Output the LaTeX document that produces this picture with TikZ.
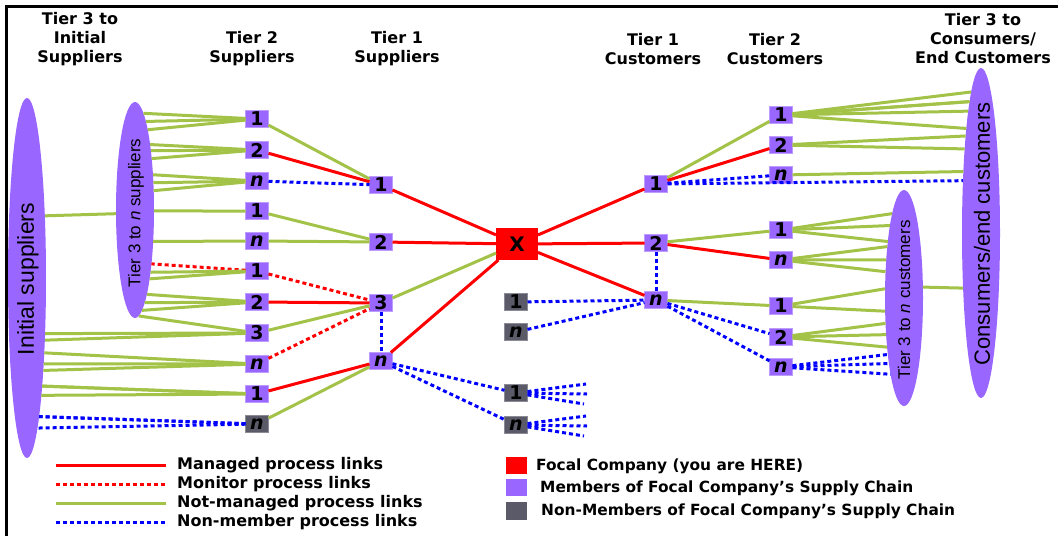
\documentclass[tikz,border=0pt]{standalone}
\usepackage{fontspec}
\setmainfont{DejaVu Sans}
\newfontfamily\lsans{Liberation Sans}
\usetikzlibrary{shapes.geometric}

\definecolor{member}{RGB}{153,102,255}
\definecolor{nonmember}{RGB}{90,90,104}
\definecolor{focal}{RGB}{255,0,0}
\definecolor{notmanaged}{RGB}{163,194,72}
\definecolor{linkblue}{RGB}{0,0,255}

\tikzset{
  box/.style={minimum width=23pt, minimum height=17pt, inner sep=0pt, outer sep=0pt,
    font=\fontsize{19}{19}\selectfont\bfseries},
  mem/.style={box, fill=member, draw=member!65!white, line width=0.8pt},
  non/.style={box, fill=nonmember, draw=nonmember!70!white, line width=0.8pt},
  focalbox/.style={minimum width=42pt, minimum height=32pt, inner sep=0pt, outer sep=0pt,
    fill=focal, font=\fontsize{20}{20}\selectfont\bfseries},
  group/.style={ellipse, fill=member, minimum width=38pt, inner sep=0pt, outer sep=0pt},
  grouplbl/.style={rotate=90, inner sep=0pt},
  hdr/.style={align=center, font=\fontsize{16}{19}\selectfont\bfseries},
  legtxt/.style={anchor=west, inner sep=0pt, font=\fontsize{16}{16}\selectfont\bfseries},
  legtxtb/.style={anchor=west, inner sep=0pt, font=\fontsize{15.4}{16}\selectfont\bfseries},
  managed/.style={draw=focal, line width=3pt},
  monitor/.style={draw=focal, line width=3pt, dash pattern=on 4pt off 3pt},
  notman/.style={draw=notmanaged, line width=3pt},
  nonlink/.style={draw=linkblue, line width=3pt, dash pattern=on 4pt off 3pt},
}

% fan of links from a box to the rim of a group ellipse (rx = 19);
% #1 style, #2 box, #3 ellipse, #4 centre y, #5 half height, #6 side (+1 east, -1 west), #7 rim y values
\newcommand\fanlines[7]{%
  \foreach \yy in {#7}{%
    \pgfmathsetmacro\dd{#4-\yy}%
    \pgfmathsetmacro\xx{#6*19*sqrt(max(0,1-(\dd/#5)^2))}%
    \pgfmathsetmacro\aa{atan2(\dd,\xx)}%
    \draw[#1] (#2) -- (#3.\aa);%
  }%
}

\begin{document}
\begin{tikzpicture}[x=1pt,y=-1pt]
\useasboundingbox (0,0) rectangle (1058,536);

% frame
\draw[line width=3pt] (6.5,536) -- (6.5,6.5) -- (1058,6.5);

% column headings
\node[hdr] (h1) at (80,39) {Tier 3 to\\Initial\\Suppliers};
\node[hdr] (h2) at (252,49) {Tier 2\\Suppliers};
\node[hdr] (h3) at (397,49) {Tier 1\\Suppliers};
\node[hdr] (h4) at (653,49) {Tier 1\\Customers};
\node[hdr] (h5) at (775,49) {Tier 2\\Customers};
\node[hdr] (h6) at (983,39) {Tier 3 to\\Consumers/\\End Customers};

% group ellipses
\node[group, minimum height=360pt] (init) at (27,278) {};
\node[group, minimum height=216pt] (t3s) at (135,210) {};
\node[group, minimum height=330pt] (cons) at (981,233) {};
\node[group, minimum height=216pt] (t3c) at (904,298) {};
\node[grouplbl, font=\lsans\fontsize{23}{23}\selectfont] (initl) at (28,279) {Initial suppliers};
\node[grouplbl, font=\lsans\fontsize{17}{17}\selectfont] (t3sl) at (136,213) {Tier 3 to \textit{n} suppliers};
\node[grouplbl, font=\lsans\fontsize{22}{22}\selectfont] (consl) at (982,234) {Consumers/end customers};
\node[grouplbl, font=\lsans\fontsize{17}{17}\selectfont] (t3cl) at (904,300) {Tier 3 to \textit{n} customers};

% tier 2 suppliers
\node[mem] (s21a) at (257,119) {1};
\node[mem] (s22a) at (257,150) {2};
\node[mem] (s2na) at (257,181) {\itshape n};
\node[mem] (s21b) at (257,211) {1};
\node[mem] (s2nb) at (257,241) {\itshape n};
\node[mem] (s21c) at (257,271) {1};
\node[mem] (s22c) at (257,302) {2};
\node[mem] (s23c) at (257,333) {3};
\node[mem] (s2nc) at (257,364) {\itshape n};
\node[mem] (s21d) at (257,394) {1};
\node[non] (s2nd) at (257,424) {\itshape n};

% tier 1 suppliers
\node[mem] (s11) at (381,185) {1};
\node[mem] (s12) at (381,242) {2};
\node[mem] (s13) at (381,303) {3};
\node[mem] (s1n) at (381,361) {\itshape n};

% focal company
\node[focalbox] (x) at (517,244) {X};

% non-members near the focal company
\node[non] (g1) at (516,302) {1};
\node[non] (gn) at (516,332) {\itshape n};
\node[non] (g1b) at (516,393) {1};
\node[non] (gnb) at (516,425) {\itshape n};

% tier 1 customers
\node[mem] (c11) at (656,184) {1};
\node[mem] (c12) at (656,243) {2};
\node[mem] (c1n) at (656,300) {\itshape n};

% tier 2 customers
\node[mem] (c21a) at (781,115) {1};
\node[mem] (c22a) at (781,145) {2};
\node[mem] (c2na) at (781,175) {\itshape n};
\node[mem] (c21b) at (781,230) {1};
\node[mem] (c2nb) at (781,260) {\itshape n};
\node[mem] (c21c) at (781,306) {1};
\node[mem] (c22c) at (781,337) {2};
\node[mem] (c2nc) at (781,367) {\itshape n};

% loose ends of the non-member fans
\coordinate (f1a) at (586,384);
\coordinate (f1b) at (587,394);
\coordinate (f1c) at (584,404);
\coordinate (fna) at (586,416);
\coordinate (fnb) at (587,426);
\coordinate (fnc) at (584,436);

% ---- supplier side links ----
\fanlines{notman}{s21a}{t3s}{210}{108}{1}{113,120,128}
\fanlines{notman}{s22a}{t3s}{210}{108}{1}{143,150,158}
\fanlines{notman}{s2na}{t3s}{210}{108}{1}{174,182,190}
\fanlines{notman}{s21b}{t3s}{210}{108}{1}{211}
\fanlines{notman}{s2nb}{t3s}{210}{108}{1}{242}
\fanlines{monitor}{s21c}{t3s}{210}{108}{1}{266}
\fanlines{notman}{s21c}{t3s}{210}{108}{1}{273,280}
\fanlines{notman}{s22c}{t3s}{210}{108}{1}{296,303,311}
\fanlines{notman}{s23c}{t3s}{210}{108}{1}{317}
\fanlines{notman}{s23c}{init}{278}{180}{1}{334,342}
\fanlines{notman}{s2nc}{init}{278}{180}{1}{357,364,372}
\fanlines{notman}{s21d}{init}{278}{180}{1}{387,395,403}
\fanlines{nonlink}{s2nd}{init}{278}{180}{1}{418,425,432}
\draw[notman] (init.74.5) -- (t3s.191.9);

\draw[notman]  (s21a) -- (s11);
\draw[managed] (s22a) -- (s11);
\draw[nonlink] (s2na) -- (s11);
\draw[notman]  (s21b) -- (s12);
\draw[notman]  (s2nb) -- (s12);
\draw[monitor] (s21c) -- (s13);
\draw[managed] (s22c) -- (s13);
\draw[notman]  (s23c) -- (s13);
\draw[monitor] (s2nc) -- (s13);
\draw[managed] (s21d) -- (s1n);
\draw[notman]  (s2nd) -- (s1n);
\draw[nonlink] (s13) -- (s1n);

\draw[managed] (s11) -- (x);
\draw[managed] (s12) -- (x);
\draw[notman]  (s13) -- (x);
\draw[managed] (s1n) -- (x);

\draw[nonlink] (s1n) -- (g1b);
\draw[nonlink] (s1n) -- (gnb);
\foreach \e in {f1a,f1b,f1c} \draw[nonlink] (g1b) -- (\e);
\foreach \e in {fna,fnb,fnc} \draw[nonlink] (gnb) -- (\e);

% ---- customer side links ----
\draw[managed] (x) -- (c11);
\draw[managed] (x) -- (c12);
\draw[managed] (x) -- (c1n);
\draw[nonlink] (c12) -- (c1n);
\draw[nonlink] (g1) -- (c1n);
\draw[nonlink] (gn) -- (c1n);

\draw[notman]  (c11) -- (c21a);
\draw[managed] (c11) -- (c22a);
\draw[nonlink] (c11) -- (c2na);
\fanlines{nonlink}{c11}{cons}{233}{165}{-1}{181}
\draw[notman]  (c12) -- (c21b);
\draw[managed] (c12) -- (c2nb);
\draw[notman]  (c1n) -- (c21c);
\draw[nonlink] (c1n) -- (c22c);
\draw[nonlink] (c1n) -- (c2nc);

\fanlines{notman}{c21a}{cons}{233}{165}{-1}{92,102,108,120,132}
\fanlines{notman}{c22a}{cons}{233}{165}{-1}{137,150}
\fanlines{notman}{c2na}{cons}{233}{165}{-1}{173}
\fanlines{notman}{c21b}{t3c}{298}{108}{-1}{215,228,242}
\fanlines{notman}{c2nb}{t3c}{298}{108}{-1}{248,261,272}
\fanlines{notman}{c21c}{t3c}{298}{108}{-1}{289,311}
\fanlines{notman}{c22c}{t3c}{298}{108}{-1}{323,334,347}
\fanlines{nonlink}{c2nc}{t3c}{298}{108}{-1}{352,363,374}
\draw[notman] (t3c.30.2) -- (cons.252);

% ---- legend ----
\coordinate (la1) at (56,465);  \coordinate (lb1) at (166,465);
\coordinate (la2) at (56,484);  \coordinate (lb2) at (166,484);
\coordinate (la3) at (56,503);  \coordinate (lb3) at (166,503);
\coordinate (la4) at (56,522);  \coordinate (lb4) at (166,522);
\draw[managed] (la1) -- (lb1);
\draw[monitor] (la2) -- (lb2);
\draw[notman]  (la3) -- (lb3);
\draw[nonlink] (la4) -- (lb4);
\node[legtxt] (t1) at (177,465) {Managed process links};
\node[legtxt] (t2) at (177,484) {Monitor process links};
\node[legtxt] (t3) at (177,503) {Not-managed process links};
\node[legtxt] (t4) at (177,522) {Non-member process links};

\node[fill=focal, minimum width=21pt, minimum height=17pt, inner sep=0pt] (k1) at (516.5,465.5) {};
\node[fill=member, minimum width=21pt, minimum height=17pt, inner sep=0pt] (k2) at (516.5,487.5) {};
\node[fill=nonmember, minimum width=21pt, minimum height=18pt, inner sep=0pt] (k3) at (516.5,511) {};
\node[legtxtb] (k1t) at (536,466) {Focal Company (you are HERE)};
\node[legtxtb] (k2t) at (540,488) {Members of Focal Company's Supply Chain};
\node[legtxtb] (k3t) at (541,511) {Non-Members of Focal Company's Supply Chain};
\end{tikzpicture}
\end{document}
